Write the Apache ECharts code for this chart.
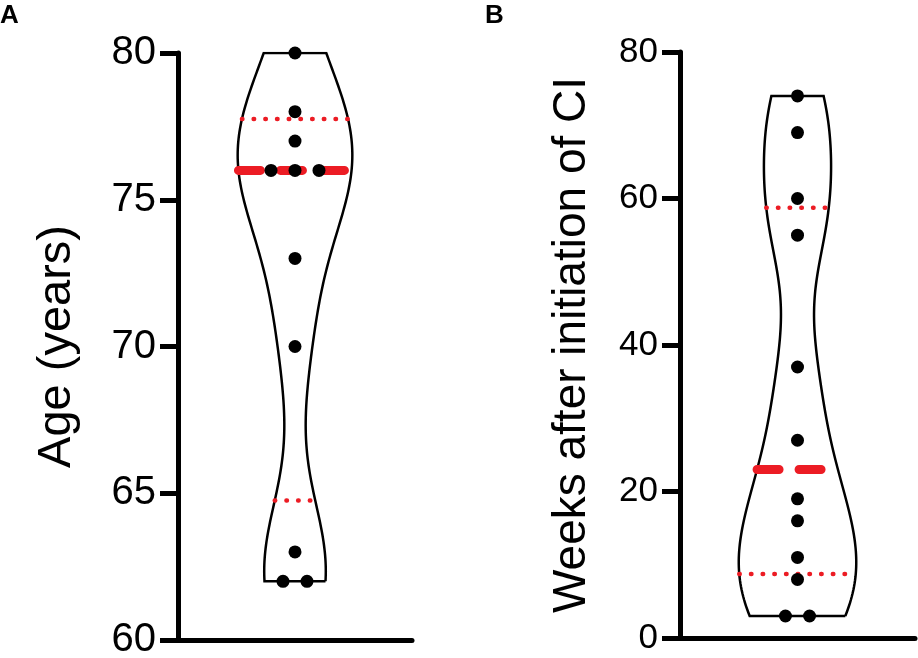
<!DOCTYPE html>
<html>
<head>
<meta charset="utf-8">
<script src="https://cdn.jsdelivr.net/npm/echarts@6/dist/echarts.min.js"></script>
<style>
html,body{margin:0;padding:0;background:#fff;}
#chart{width:918px;height:658px;}
</style>
</head>
<body>
<div id="chart"></div>
<script>
// ---------- data ----------
const panelLetters = ['A', 'B'];
const axisNames = ['Age (years)', 'Weeks after initiation of CI'];
const ageValues = [80, 78, 77, 76, 76, 76, 73, 70, 63, 62, 62];
const weeksValues = [74, 69, 60, 55, 37, 27, 19, 16, 11, 8, 3, 3];
// [lower quartile, median, upper quartile]
const ageSummary = [64.75, 76, 77.75];
const weeksSummary = [8.75, 23, 58.75];
const ageTicks = [60, 65, 70, 75, 80];
const weeksTicks = [0, 20, 40, 60, 80];

// ---------- style / layout ----------
const FONT = 'Liberation Sans, Arial, Helvetica, sans-serif';
const RED = '#ec1c24';
const panels = [
  { values: ageValues, summary: ageSummary, ticks: ageTicks, bw: 2.45, halfW: 0.49,
    grid: { left: 178, top: 53, width: 234, height: 587 }, labelSize: 40, nameSize: 47, nameGap: 97, labelMargin: 22 },
  { values: weeksValues, summary: weeksSummary, ticks: weeksTicks, bw: 8, halfW: 0.50,
    grid: { left: 680, top: 52, width: 235, height: 586 }, labelSize: 35, nameSize: 46, nameGap: 85, labelMargin: 22 }
];
const DOT_STEP = 0.205;

function kde(vals, h) {
  return function (y) {
    let s = 0;
    for (const v of vals) { const d = (y - v) / h; s += Math.exp(-0.5 * d * d); }
    return s;
  };
}

const grids = [], xAxes = [], yAxes = [], series = [];
panels.forEach((p, i) => {
  grids.push(Object.assign({ outerBoundsMode: 'none', containLabel: false }, p.grid));
  xAxes.push({
    gridIndex: i, type: 'value', min: -1, max: 1,
    axisLine: { show: true, onZero: false, lineStyle: { color: '#000', width: 5 } },
    axisTick: { show: false }, axisLabel: { show: false }, splitLine: { show: false }
  });
  yAxes.push({
    gridIndex: i, type: 'value',
    min: p.ticks[0], max: p.ticks[p.ticks.length - 1], interval: p.ticks[1] - p.ticks[0],
    axisLine: { show: true, onZero: false, lineStyle: { color: '#000', width: 5 } },
    axisTick: { show: true, inside: false, length: 18, lineStyle: { color: '#000', width: 5 } },
    axisLabel: { color: '#000', fontSize: p.labelSize, fontFamily: FONT, margin: p.labelMargin },
    splitLine: { show: false },
    name: axisNames[i], nameLocation: 'middle', nameGap: p.nameGap, nameRotate: 90,
    nameTextStyle: { color: '#000', fontSize: p.nameSize, fontFamily: FONT }
  });

  // violin outline from kernel density
  const f = kde(p.values, p.bw);
  const lo = Math.min(...p.values), hi = Math.max(...p.values);
  const N = 160;
  const ys = [];
  for (let k = 0; k <= N; k++) ys.push(lo + (hi - lo) * k / N);
  let maxD = 0;
  ys.forEach(y => { maxD = Math.max(maxD, f(y)); });
  const w = y => f(y) / maxD * p.halfW;
  const outline = [];
  ys.forEach(y => outline.push([w(y), y]));
  for (let k = ys.length - 1; k >= 0; k--) outline.push([-w(ys[k]), ys[k]]);
  outline.push(outline[0]);
  series.push({
    type: 'line', xAxisIndex: i, yAxisIndex: i, data: outline, symbol: 'none', smooth: false,
    lineStyle: { color: '#000', width: 2.5, join: 'miter' }, z: 2, silent: true, animation: false
  });

  // quartile (dotted) and median (dashed) lines
  p.summary.forEach((q, j) => {
    const isMed = j === 1;
    const hw = w(q);
    series.push({
      type: 'line', xAxisIndex: i, yAxisIndex: i, data: [[-hw, q], [hw, q]], symbol: 'none',
      lineStyle: isMed
        ? { color: RED, width: 9, type: [22, 20], cap: 'round', opacity: 1 }
        : { color: RED, width: 4.5, type: [0.5, 11.2], cap: 'round', opacity: 1 },
      z: 3, silent: true, animation: false
    });
  });

  // dots, with tied values spread sideways
  const counts = {};
  p.values.forEach(v => { counts[v] = (counts[v] || 0) + 1; });
  const seen = {};
  const pts = p.values.map(v => {
    const k = counts[v]; const idx = seen[v] || 0; seen[v] = idx + 1;
    return [(idx - (k - 1) / 2) * DOT_STEP, v];
  });
  series.push({
    type: 'scatter', xAxisIndex: i, yAxisIndex: i, data: pts, symbol: 'circle', symbolSize: 13,
    itemStyle: { color: '#000', opacity: 1 }, z: 4, silent: true, animation: false
  });
});

const chart = echarts.init(document.getElementById('chart'), null, { renderer: 'canvas' });
chart.setOption({
  backgroundColor: '#fff',
  animation: false,
  grid: grids, xAxis: xAxes, yAxis: yAxes, series: series,
  graphic: [
    { type: 'text', x: 0, y: 3, style: { text: panelLetters[0], font: 'bold 26px "Liberation Sans", Arial, sans-serif', fill: '#000' } },
    { type: 'text', x: 485, y: 3, style: { text: panelLetters[1], font: 'bold 26px "Liberation Sans", Arial, sans-serif', fill: '#000' } }
  ]
});
</script>
</body>
</html>
